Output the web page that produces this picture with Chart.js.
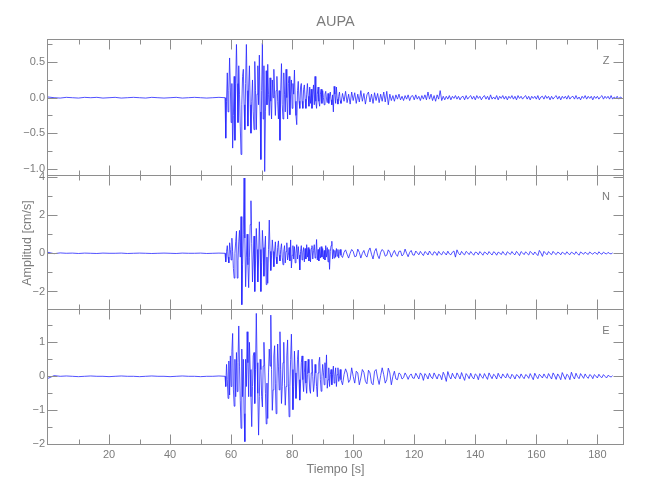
<!DOCTYPE html>
<html>
<head>
<meta charset="utf-8">
<script src="https://cdn.jsdelivr.net/npm/chart.js@4.4.1/dist/chart.umd.min.js"></script>
<style>
  html, body { margin: 0; padding: 0; background: #fff; }
  #wrap { position: relative; width: 650px; height: 500px; }
  #wrap canvas { position: absolute; left: 0; top: 0; }
</style>
</head>
<body>
<div id="wrap">
  <canvas id="panelZ" width="650" height="500"></canvas>
  <canvas id="panelN" width="650" height="500"></canvas>
  <canvas id="panelE" width="650" height="500"></canvas>
</div>
<script>
// sampling of the traces (seconds)
const PRE_START = 0, PRE_STEP = 2;
const STRONG_START = 58, STRONG_STEP = 0.25;
const CODA_START = 96, CODA_STEP = 0.5;
const TIME_MAX = 188.4;

const timeTicks = [20, 40, 60, 80, 100, 120, 140, 160, 180];
const panelNames = ['Z', 'N', 'E'];

// Z component [cm/s]
const zRange = [-1.103, 0.813];
const zTicks = [-1.0, -0.5, 0.0, 0.5];
const zPre = [0.01, 0.00, -0.005, 0.005, 0.00, -0.005, 0.005, 0.00, 0.005, -0.005,
  0.00, 0.005, -0.005, 0.00, 0.005, 0.00, -0.005, 0.005, 0.00, -0.005,
  0.00, 0.005, -0.005, 0.00, 0.005, 0.00, -0.005, 0.00, 0.005];
const zStrong = [
  0.00, -0.57, -0.05, 0.35, -0.20, 0.10, 0.56, 0.15,
  -0.35, 0.20, -0.71, -0.25, 0.30, -0.60, 0.20, 0.75,
  0.20, -0.35, 0.45, 0.05, -0.40, -0.80, -0.10, 0.30,
  0.40, -0.10, -0.45, 0.20, 0.75, 0.10, -0.40, 0.15,
  0.45, -0.10, -0.50, -0.05, 0.25, -0.20, -0.45, 0.51,
  0.10, -0.45, 0.05, 0.45, -0.10, 0.60, -0.20, -0.87,
  0.10, 0.77, -0.30, 0.45, -1.04, -0.20, 0.38, -0.10,
  0.47, 0.05, -0.25, 0.28, -0.05, -0.30, 0.25, 0.00,
  0.40, 0.05, -0.25, 0.10, 0.30, -0.05, -0.30, 0.10,
  -0.60, 0.10, 0.48, -0.10, -0.30, 0.35, 0.05, -0.20,
  0.40, 0.00, -0.30, 0.20, 0.30, -0.24, 0.05, 0.25,
  -0.15, 0.20, 0.05, 0.39, -0.05, -0.25, -0.38, 0.10,
  0.23, -0.05, -0.15, 0.15, 0.20, -0.05, -0.15, 0.12,
  0.18, -0.02, -0.15, 0.05, 0.20, 0.02, -0.12, 0.15,
  -0.08, 0.12, -0.15, 0.05, 0.18, -0.10, 0.30, -0.05,
  -0.15, 0.05, 0.15, -0.05, -0.12, 0.05, 0.12, -0.08,
  0.10, 0.00, -0.10, 0.05, 0.09, -0.02, -0.07, 0.06,
  -0.08, 0.02, 0.08, -0.03, -0.10, 0.04, -0.20, 0.16,
  0.05, -0.08, 0.15, -0.02, -0.09, 0.02, 0.08, -0.04];
const zCoda = [
  -0.08, 0.06, -0.05, 0.09, -0.07, 0.05, -0.09, 0.08,
  -0.04, 0.07, -0.08, 0.05, -0.06, 0.10, -0.05, 0.06,
  -0.09, 0.04, 0.08, -0.06, 0.05, -0.08, 0.07, -0.04,
  0.06, -0.07, 0.05, -0.05, 0.08, -0.06, 0.09, -0.10,
  0.05, -0.04, 0.03, -0.05, 0.04, -0.02, 0.05, -0.03,
  0.02, -0.04, 0.03, -0.02, 0.04, -0.04, 0.02, 0.03,
  -0.03, 0.04, -0.02, 0.02, -0.04, 0.03, -0.02, 0.04,
  -0.03, 0.08, -0.02, 0.05, -0.04, 0.03, -0.05, 0.04,
  -0.02, 0.10, -0.04, 0.02, -0.03, 0.02, -0.02, 0.03,
  -0.03, 0.02, -0.01, 0.03, -0.02, 0.02, -0.03, 0.01,
  0.02, -0.03, 0.03, -0.02, 0.01, 0.03, -0.02, 0.02,
  -0.03, 0.03, -0.01, 0.02, -0.03, 0.01, 0.03, -0.02,
  0.02, -0.03, 0.04, -0.02, 0.01, -0.02, 0.03, -0.03,
  0.02, -0.01, 0.03, -0.02, 0.02, -0.03, 0.02, -0.01,
  0.03, -0.02, 0.02, -0.03, 0.03, -0.01, 0.02, -0.02,
  0.01, 0.03, -0.02, 0.02, -0.03, 0.02, -0.01, 0.02,
  -0.02, 0.03, -0.03, 0.01, 0.02, -0.02, 0.03, -0.01,
  0.02, -0.03, 0.02, -0.02, 0.01, 0.03, -0.02, 0.02,
  -0.03, 0.02, -0.01, 0.02, -0.02, 0.03, -0.02, 0.01,
  0.02, -0.02, 0.03, -0.02, 0.01, -0.03, 0.02, -0.01,
  0.03, -0.02, 0.02, -0.01, 0.02, -0.03, 0.02, -0.01,
  0.02, -0.02, 0.01, 0.03, -0.02, 0.02, -0.01, 0.02,
  -0.02, 0.03, -0.02, 0.01, -0.01, 0.02, -0.02, 0.01,
  0.00];

// N component [cm/s]
const nRange = [-2.969, 4.047];
const nTicks = [-2, 0, 2, 4];
const nPre = [0.05, -0.02, 0.02, 0.00, 0.01, -0.01, 0.01, 0.00, -0.01, 0.01,
  0.00, 0.00, 0.01, -0.01, 0.00, 0.01, 0.00, -0.01, 0.00, 0.01,
  0.00, -0.01, 0.01, 0.00, 0.00, 0.01, -0.01, 0.00, 0.01];
const nStrong = [
  0.00, -0.45, 0.10, 0.40, -0.20, -0.50, 0.55, 0.20,
  -0.35, 0.79, 0.10, -0.80, -1.30, 0.00, 0.60, 1.16,
  -1.30, -0.40, 0.60, 1.20, -0.20, 1.92, -2.69, -0.60,
  1.00, 3.94, 0.80, -1.75, -0.20, 1.00, -0.60, -1.80,
  -0.20, 1.50, 2.75, 0.50, -1.50, -0.30, 0.90, -2.00,
  -0.40, 1.30, 0.20, -1.50, -0.30, 1.65, 0.20, -2.00,
  -0.50, 1.20, 0.30, -1.20, 0.20, 0.90, -1.64, -0.20,
  -1.57, 0.20, 1.74, 0.10, -0.90, -0.10, 0.70, 0.10,
  -0.70, 0.10, 0.60, -0.20, -0.55, 0.30, 0.65, -0.10,
  -0.40, 0.20, 0.50, -0.20, -0.60, 0.10, 0.40, -0.50,
  0.10, 0.55, -0.35, -0.10, 0.30, -0.40, 0.70, -0.77,
  -0.10, 0.40, -0.30, 0.35, -0.50, 0.00, 0.45, -0.30,
  0.35, -0.10, -0.87, 0.10, 0.40, -0.35, 0.05, 0.30,
  -0.45, 0.25, -0.30, 0.45, -0.20, 0.30, -0.40, 0.20,
  -0.45, 0.25, 0.40, -0.30, 0.15, 0.45, -0.25, -0.10,
  0.72, -0.35, 0.20, -0.40, 0.30, -0.25, 0.35, -0.20,
  0.25, -0.30, 0.15, -0.35, 0.40, -0.20, 0.30, -0.45,
  0.20, -0.84, 0.10, 0.40, 0.63, -0.30, 0.20, -0.25,
  0.15, -0.20, 0.25, -0.15, 0.20, -0.25, 0.10, 0.20];
const nCoda = [
  -0.10, -0.22, 0.05, 0.18, -0.05, -0.25, 0.00, 0.20,
  0.10, -0.18, -0.15, 0.22, 0.05, -0.25, 0.00, 0.15,
  -0.10, -0.20, 0.12, 0.28, -0.05, -0.30, 0.10, 0.25,
  -0.10, -0.28, 0.05, 0.20, 0.10, -0.15, -0.10, 0.18,
  0.05, -0.20, 0.00, 0.15, -0.05, -0.16, 0.10, 0.12,
  -0.14, -0.05, 0.22, 0.00, -0.18, 0.05, 0.15, -0.08,
  -0.10, 0.12, 0.02, -0.08, 0.10, -0.02, -0.12, 0.09,
  0.03, -0.09, 0.12, -0.02, -0.10, 0.08, 0.04, -0.11,
  0.10, -0.02, -0.08, 0.09, 0.02, -0.09, 0.11, -0.03,
  -0.08, 0.06, 0.12, -0.20, 0.18, 0.00, -0.09, 0.10,
  -0.02, -0.08, 0.10, 0.03, -0.07, 0.09, -0.01, -0.10,
  0.06, 0.04, -0.08, 0.09, 0.00, -0.10, 0.07, 0.02,
  -0.07, 0.09, -0.01, -0.09, 0.08, 0.03, -0.10, 0.06,
  0.02, -0.07, 0.09, -0.02, -0.10, 0.08, 0.01, -0.06,
  0.09, -0.02, -0.08, 0.10, 0.00, -0.12, 0.09, 0.02,
  -0.07, 0.08, -0.01, -0.09, 0.10, 0.02, -0.08, 0.07,
  -0.03, -0.12, 0.15, 0.02, -0.16, 0.10, 0.01, -0.08,
  0.09, -0.01, -0.07, 0.10, 0.00, -0.07, 0.06, 0.02,
  -0.08, 0.06, 0.00, -0.06, 0.08, -0.02, -0.07, 0.06,
  0.01, -0.06, 0.08, -0.02, -0.10, 0.07, 0.01, -0.05,
  0.06, -0.01, -0.06, 0.07, 0.00, -0.05, 0.04, 0.02,
  -0.06, 0.08, -0.01, -0.05, 0.06, 0.00, -0.04, 0.05,
  -0.01, -0.03, 0.02];

// E component [cm/s]
const eRange = [-2.02, 1.95];
const eTicks = [-2, -1, 0, 1];
const ePre = [-0.06, 0.02, 0.00, 0.01, 0.00, -0.01, 0.00, 0.01, 0.00, 0.00,
  -0.01, 0.00, 0.01, 0.00, 0.00, -0.01, 0.00, 0.01, 0.00, 0.00,
  -0.01, 0.00, 0.01, 0.00, 0.00, -0.01, 0.00, 0.00, 0.01];
const eStrong = [
  0.00, -0.30, 0.35, -0.10, -0.65, 0.45, -0.55, 0.60,
  -0.30, 0.73, 1.26, -0.40, -0.88, 0.50, -0.60, 0.70,
  -0.45, 0.40, 1.48, 0.30, -0.70, -1.53, 0.80, -0.60,
  0.50, -1.10, -1.92, 0.50, -0.30, 1.31, 0.40, -0.60,
  1.00, 0.20, -0.60, -1.48, -0.30, 0.60, 0.70, -0.80,
  0.20, 1.85, 0.40, -0.50, -1.73, -0.60, 0.50, 0.20,
  -0.60, -0.90, 0.30, 1.00, 0.30, -0.50, -1.40, -0.20,
  -1.24, 0.10, 0.80, 0.30, 1.80, 0.20, -1.00, -0.40,
  0.60, 0.90, -0.20, -1.10, -0.20, 0.95, 0.30, -0.40,
  1.31, 0.20, -0.80, -0.30, 0.40, 1.00, -0.20, -0.85,
  -0.30, 0.60, 1.07, -0.20, -1.19, -0.30, 0.50, 1.24,
  0.20, -0.98, -0.30, 0.74, 0.10, -0.65, -0.20, 0.50,
  0.77, -0.10, -0.70, -0.20, 0.40, 0.60, -0.10, -0.45,
  0.10, 0.45, -0.20, -0.50, 0.05, 0.50, 0.10, -0.40,
  -0.50, 0.10, 0.50, 0.00, -0.45, -0.20, 0.35, 0.10,
  -0.30, -0.60, 0.10, 0.40, 0.56, -0.10, -0.44, 0.00,
  0.35, 0.10, -0.25, 0.40, -0.05, 0.63, -0.35, -0.10,
  0.25, -0.30, 0.05, 0.20, -0.25, 0.05, 0.30, -0.20,
  0.00, 0.25, -0.30, 0.05, 0.25, -0.15, -0.05, 0.20];
const eCoda = [
  -0.10, -0.25, 0.05, 0.22, 0.10, -0.18, -0.10, 0.25,
  0.00, -0.20, 0.15, 0.10, -0.25, -0.05, 0.20, 0.12,
  -0.15, -0.22, 0.18, 0.10, -0.20, -0.25, 0.15, 0.20,
  -0.05, -0.24, 0.02, 0.25, 0.05, -0.20, -0.10, 0.24,
  0.10, -0.25, 0.00, 0.15, -0.08, -0.10, 0.10, 0.06,
  -0.08, -0.04, 0.10, 0.02, -0.09, 0.02, 0.07, -0.05,
  -0.06, 0.09, 0.01, -0.08, 0.10, 0.04, -0.12, 0.08,
  0.02, -0.08, 0.09, -0.02, -0.07, 0.10, 0.01, -0.08,
  0.06, 0.03, -0.10, 0.12, 0.02, -0.15, 0.14, 0.00,
  -0.08, 0.09, -0.01, -0.07, 0.10, 0.02, -0.08, 0.11,
  -0.01, -0.12, 0.08, 0.02, -0.07, 0.09, -0.02, -0.08,
  0.07, 0.03, -0.10, 0.08, 0.00, -0.06, 0.08, -0.01,
  -0.09, 0.10, 0.01, -0.07, 0.06, 0.02, -0.08, 0.09,
  -0.01, -0.06, 0.07, 0.00, -0.05, 0.08, -0.02, -0.07,
  0.06, 0.01, -0.08, 0.05, 0.02, -0.06, 0.07, -0.01,
  -0.07, 0.05, 0.02, -0.06, 0.08, -0.01, -0.10, 0.09,
  0.00, -0.07, 0.06, 0.01, -0.05, 0.07, -0.01, -0.06,
  0.08, 0.00, -0.08, 0.10, 0.02, -0.09, 0.07, 0.00,
  -0.10, 0.11, 0.01, -0.09, 0.06, 0.02, -0.10, 0.12,
  0.00, -0.08, 0.09, -0.01, -0.07, 0.08, 0.01, -0.06,
  0.07, -0.01, -0.06, 0.05, 0.02, -0.07, 0.05, 0.01,
  -0.05, 0.06, -0.01, -0.04, 0.05, 0.00, -0.05, 0.03,
  0.00, -0.02, 0.02];

const grey = '#7c7c7c';
const fontFamily = "'Liberation Sans', Arial, sans-serif";
Chart.defaults.font.family = fontFamily;
Chart.defaults.font.size = 11;
Chart.defaults.color = grey;

function series(pre, strong, coda) {
  const pts = [];
  pre.forEach((v, i) => pts.push({x: PRE_START + i * PRE_STEP, y: v}));
  strong.forEach((v, i) => pts.push({x: STRONG_START + i * STRONG_STEP, y: v}));
  coda.forEach((v, i) => pts.push({x: CODA_START + i * CODA_STEP, y: v}));
  return pts;
}

function signed(v, digits) {
  const s = digits ? Math.abs(v).toFixed(digits) : String(Math.abs(v));
  return (v < 0 ? '\u2212' : '') + s;
}

// box around each panel with inward ticks on all four sides
const framePlugin = {
  id: 'frame',
  afterDraw(chart, args, o) {
    const {ctx, chartArea: a} = chart;
    const xs = chart.scales.x, ys = chart.scales.y;
    const L = a.left - 0.5, R = a.right + 0.5, T = a.top - 0.5, B = a.bottom - 0.5;
    ctx.save();
    ctx.strokeStyle = '#8e8e8e';
    ctx.lineWidth = 1;
    ctx.strokeRect(L, T, R - L, B - T);
    ctx.beginPath();
    for (let i = 1; i * 10 < xs.max; i++) {
      const px = Math.round(xs.getPixelForValue(i * 10)) + 0.5;
      const len = i % 2 === 0 ? 10 : 5;
      ctx.moveTo(px, T); ctx.lineTo(px, T + len);
      ctx.moveTo(px, B); ctx.lineTo(px, B - len);
    }
    const first = Math.ceil(ys.min / o.minor - 1e-9);
    for (let k = first; k * o.minor <= ys.max + 1e-9; k++) {
      const v = k * o.minor;
      const py = Math.round(ys.getPixelForValue(v)) + 0.5;
      const r = v / o.major;
      const len = Math.abs(r - Math.round(r)) < 1e-6 ? 10 : 5;
      ctx.moveTo(L, py); ctx.lineTo(L + len, py);
      ctx.moveTo(R, py); ctx.lineTo(R - len, py);
    }
    ctx.stroke();
    ctx.fillStyle = grey;
    ctx.font = '11px ' + fontFamily;
    ctx.textAlign = 'center';
    ctx.textBaseline = 'middle';
    ctx.fillText(o.label, a.right - 17, a.top + 21);
    ctx.restore();
  }
};

function makePanel(id, cfg) {
  return new Chart(document.getElementById(id), {
    type: 'line',
    data: {
      datasets: [{
        data: cfg.points,
        borderColor: '#2626ff',
        borderWidth: 0.8,
        pointRadius: 0,
        tension: 0,
        fill: false
      }]
    },
    options: {
      responsive: false,
      animation: false,
      devicePixelRatio: 1,
      layout: {padding: {left: 0, right: 27, top: cfg.padTop, bottom: cfg.padBottom}},
      plugins: {
        legend: {display: false},
        tooltip: {enabled: false},
        title: cfg.title || {display: false},
        frame: {label: cfg.label, minor: cfg.minor, major: cfg.major}
      },
      scales: {
        x: {
          type: 'linear',
          min: 0,
          max: TIME_MAX,
          display: !!cfg.showX,
          grid: {display: false, drawTicks: false},
          border: {display: false},
          afterBuildTicks: s => { s.ticks = timeTicks.map(v => ({value: v})); },
          afterFit: s => { s.height = cfg.showX ? 55 : 0; },
          ticks: {padding: 3, maxRotation: 0, autoSkip: false, color: grey, font: {size: 11}},
          title: {
            display: !!cfg.showX,
            text: 'Tiempo [s]',
            color: grey,
            font: {size: 12.5},
            padding: {top: 0, bottom: 23}
          }
        },
        y: {
          type: 'linear',
          min: cfg.range[0],
          max: cfg.range[1],
          grid: {display: false, drawTicks: false},
          border: {display: false},
          afterBuildTicks: s => { s.ticks = cfg.ticks.map(v => ({value: v})); },
          afterFit: s => { s.width = 48; },
          ticks: {
            padding: 3,
            autoSkip: false,
            color: grey,
            font: {size: 11},
            callback: v => signed(v, cfg.digits)
          },
          title: {
            display: !!cfg.yTitle,
            text: cfg.yTitle || '',
            color: grey,
            font: {size: 12.5},
            padding: {top: 20, bottom: 0}
          }
        }
      }
    },
    plugins: [framePlugin]
  });
}

makePanel('panelZ', {
  points: series(zPre, zStrong, zCoda),
  range: zRange, ticks: zTicks, digits: 1,
  minor: 0.25, major: 0.5, label: panelNames[0],
  padTop: 0, padBottom: 324,
  title: {
    display: true, text: 'AUPA', fullSize: false, color: grey,
    font: {size: 14.5, weight: 'normal'}, padding: {top: 13.5, bottom: 9.1}
  }
});

makePanel('panelN', {
  points: series(nPre, nStrong, nCoda),
  range: nRange, ticks: nTicks, digits: 0,
  minor: 1, major: 2, label: panelNames[1],
  padTop: 176, padBottom: 190,
  yTitle: 'Amplitud [cm/s]'
});

makePanel('panelE', {
  points: series(ePre, eStrong, eCoda),
  range: eRange, ticks: eTicks, digits: 0,
  minor: 0.5, major: 1, label: panelNames[2],
  padTop: 310, padBottom: 0,
  showX: true
});
</script>
</body>
</html>
